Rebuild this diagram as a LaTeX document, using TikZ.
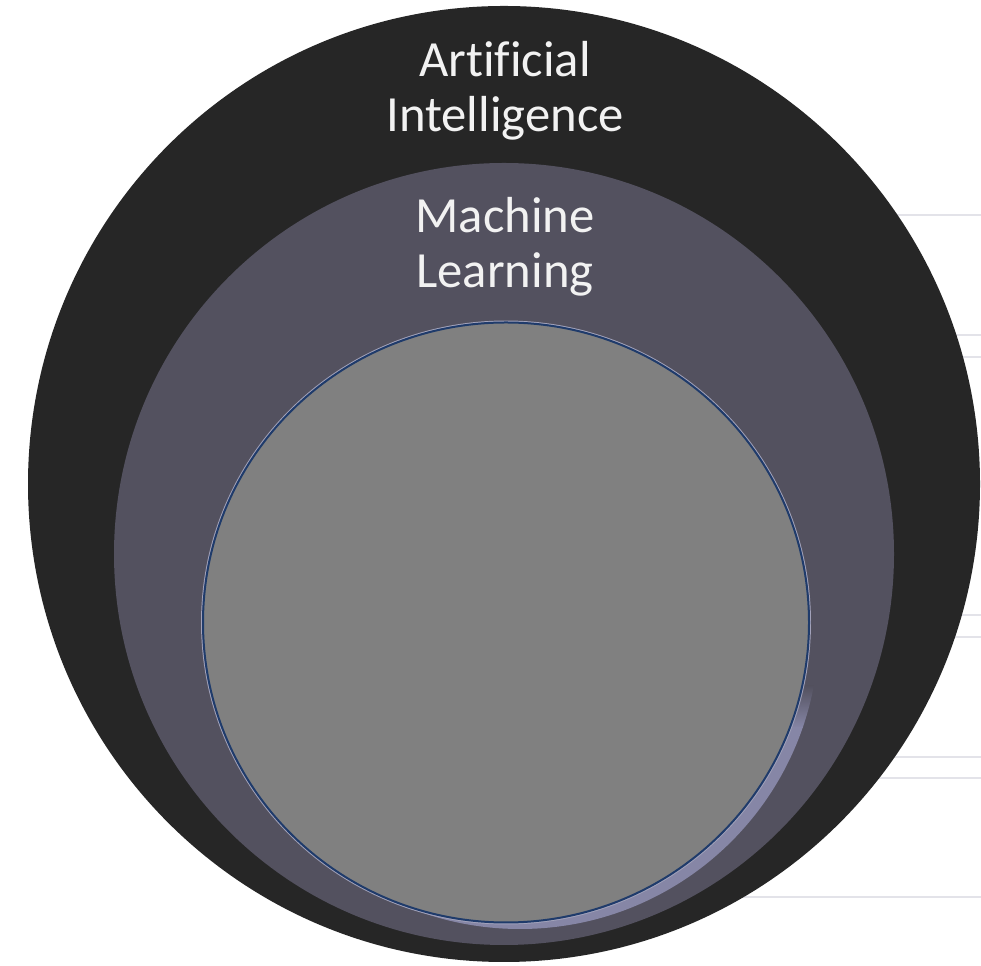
\documentclass[tikz,border=0pt]{standalone}
\usepackage{fontspec}
\setmainfont{Carlito}[Ligatures=CommonOff]
\definecolor{aiblack}{HTML}{262626}
\definecolor{mlgray}{HTML}{53515F}
\definecolor{lav}{HTML}{8686A6}
\definecolor{lavlight}{HTML}{A2A2BA}
\definecolor{dlgray}{HTML}{808080}
\definecolor{navy}{HTML}{1F3B6B}
\definecolor{guide}{HTML}{E3E3E9}
\definecolor{labelwhite}{HTML}{F2F2F2}
\tikzset{
  guideline/.style={draw=guide, line width=1.1pt},
  circlabel/.style={text=labelwhite, align=center, anchor=base, inner sep=0pt,
    font=\fontsize{38}{41.25}\selectfont}
}
\begin{document}
\begin{tikzpicture}[x=0.75pt,y=0.75pt]
\useasboundingbox (0,0) rectangle (981,966);
\fill[white] (0,0) rectangle (981,966);
% faint guide lines on the right (behind the circles)
\foreach \yy [count=\i] in {215,335,357,615,637,757,778,897}{
  \coordinate (gl\i a) at (700,966-\yy);
  \coordinate (gl\i b) at (981,966-\yy);
  \draw[guideline] (gl\i a) -- (gl\i b);
}
% Artificial Intelligence
\fill[aiblack] (504,482) ellipse [x radius=476, y radius=478];
% Machine Learning
\fill[mlgray] (504,412) ellipse [x radius=390, y radius=391];
% lavender rim (lower right)
\begin{scope}
  \clip (520,336) circle [radius=299];
  \shade[top color=mlgray, bottom color=lav] (150,280) rectangle (850,238);
  \fill[lav] (150,238.5) rectangle (850,20);
\end{scope}
% light halo around inner circle
\draw[lavlight, line width=1pt] (506,343.5) ellipse [x radius=304.3, y radius=301.3];
% inner circle
\filldraw[fill=dlgray, draw=navy, line width=1.5pt] (506,343.5) ellipse [x radius=303, y radius=300];
% labels (anchor = baseline of the last line)
\node[circlabel] (ai) at (505,834) {Artificial\\Intelligence};
\node[circlabel] (ml) at (505,678) {Machine\\Learning};
\end{tikzpicture}
\end{document}
